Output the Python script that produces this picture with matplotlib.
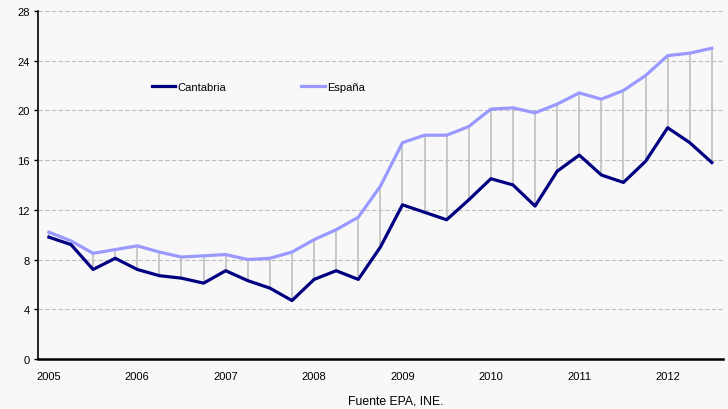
import numpy as np
import matplotlib.pyplot as plt

# datos trimestrales 2005T1 - 2012T3 (tasa de paro, %)
years = ['2005', '2006', '2007', '2008', '2009', '2010', '2011', '2012']
cantabria = [9.8, 9.2, 7.2, 8.1, 7.2, 6.7, 6.5, 6.1, 7.1, 6.3,
             5.7, 4.7, 6.4, 7.1, 6.4, 9.0, 12.4, 11.8, 11.2, 12.8,
             14.5, 14.0, 12.3, 15.1, 16.4, 14.8, 14.2, 15.9, 18.6, 17.4, 15.8]
espana = [10.2, 9.5, 8.5, 8.8, 9.1, 8.6, 8.2, 8.3, 8.4, 8.0,
          8.1, 8.6, 9.6, 10.4, 11.4, 13.9, 17.4, 18.0, 18.0, 18.7,
          20.1, 20.2, 19.8, 20.5, 21.4, 20.9, 21.6, 22.8, 24.4, 24.6, 25.0]

bg = '#f8f8f8'
plt.rcParams['font.family'] = ['Liberation Sans', 'DejaVu Sans']

fig = plt.figure(figsize=(7.28, 4.10), dpi=100, facecolor=bg)
ax = fig.add_axes([0.052, 0.122, 0.941, 0.849], facecolor=bg)

x = np.arange(len(cantabria))

# lineas verticales entre las dos series
ax.vlines(x, cantabria, espana, color='#c0c0c0', lw=1.2, zorder=2)
ax.plot(x, espana, color='#9999ff', lw=2.3, label='España', zorder=3)
ax.plot(x, cantabria, color='#000080', lw=2.3, label='Cantabria', zorder=4)

ax.set_xlim(-0.5, 30.5)
ax.set_ylim(0, 28)
ax.set_yticks(np.arange(0, 29, 4))
ax.set_xticks(np.arange(0, len(cantabria), 4))
ax.set_xticklabels(years)
ax.tick_params(axis='x', length=0, pad=9, labelsize=8)
ax.tick_params(axis='y', length=3, width=1, pad=3, labelsize=8)

for y in range(4, 29, 4):
    ax.axhline(y, color='#bdbdbd', lw=0.8, ls=(0, (4, 2)), zorder=1)

for s in ['top', 'right']:
    ax.spines[s].set_visible(False)
ax.spines['left'].set_linewidth(1.2)
ax.spines['bottom'].set_linewidth(1.8)

h, l = ax.get_legend_handles_labels()
ax.legend(h[::-1], l[::-1], loc='center left', bbox_to_anchor=(0.166, 0.782),
          ncol=2, frameon=False, fontsize=8, handlelength=2.1,
          handletextpad=0.2, columnspacing=6.8, borderpad=0, borderaxespad=0)

fig.text(0.543, 0.02, 'Fuente EPA, INE.', ha='center', va='center', fontsize=8.8)

fig.savefig('out.png', dpi=100, facecolor=bg)
